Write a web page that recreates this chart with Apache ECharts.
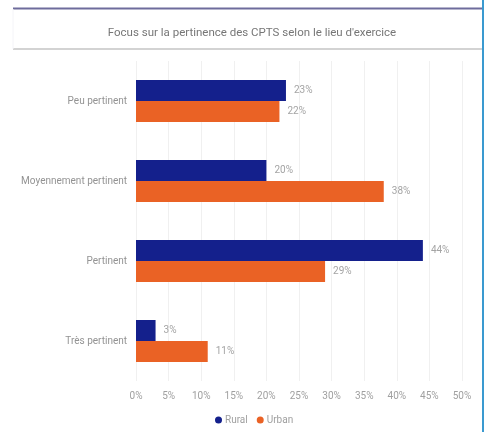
<!DOCTYPE html>
<html>
<head>
<meta charset="utf-8">
<script src="https://cdn.jsdelivr.net/npm/echarts@6/dist/echarts.min.js"></script>
<style>
  html, body { margin: 0; padding: 0; background: #ffffff; }
  #chart { width: 484px; height: 432px; }
</style>
</head>
<body>
<div id="chart"></div>
<script>
// Pertinence des CPTS selon le lieu d'exercice (en %)
const categories = ['Peu pertinent', 'Moyennement pertinent', 'Pertinent', 'Très pertinent'];
const rural = [23, 20, 44, 3];
const urban = [22, 38, 29, 11];
const xTicks = [0, 5, 10, 15, 20, 25, 30, 35, 40, 45, 50];

const FONT = 'Roboto, "Liberation Sans", sans-serif';
const chart = echarts.init(document.getElementById('chart'));

const labelStyle = {
  show: true,
  position: 'right',
  distance: 8,
  formatter: p => p.value + '%',
  color: '#a4a4a4',
  fontSize: 10,
  fontFamily: FONT
};

chart.setOption({
  animation: false,
  backgroundColor: '#ffffff',
  title: {
    text: "Focus sur la pertinence des CPTS selon le lieu d'exercice",
    left: 247,
    textAlign: 'center',
    top: 22,
    textStyle: { color: '#767676', fontSize: 11.5, fontWeight: 'normal', fontFamily: FONT }
  },
  graphic: [
    { type: 'line', shape: { x1: 13, y1: 8.5, x2: 484, y2: 8.5 }, style: { stroke: '#6e6c9c', lineWidth: 2 } },
    { type: 'line', shape: { x1: 13, y1: 49, x2: 484, y2: 49 }, style: { stroke: '#c4c4c4', lineWidth: 1.5 } },
    { type: 'line', shape: { x1: 13, y1: 9, x2: 13, y2: 49 }, style: { stroke: '#f4f4f8', lineWidth: 1 } },
    { type: 'line', shape: { x1: 483, y1: 0, x2: 483, y2: 432 }, style: { stroke: '#3a9ad0', lineWidth: 2 } }
  ],
  legend: {
    data: ['Rural', 'Urban'],
    bottom: 2,
    left: 210,
    icon: 'circle',
    itemWidth: 7,
    itemHeight: 7,
    itemGap: 9,
    textStyle: { color: '#a0a0a0', fontSize: 10, fontFamily: FONT, padding: [0, 0, 0, -2] }
  },
  grid: { left: 136, right: 22, top: 61, bottom: 51, containLabel: false },
  xAxis: {
    type: 'value',
    min: xTicks[0],
    max: xTicks[xTicks.length - 1],
    interval: 5,
    axisLine: { show: false },
    axisTick: { show: false },
    axisLabel: { formatter: v => v + '%', color: '#a0a0a0', fontSize: 10, fontFamily: FONT, margin: 10 },
    splitLine: { show: true, lineStyle: { color: '#f0f0f0', width: 1 } }
  },
  yAxis: {
    type: 'category',
    data: categories,
    inverse: true,
    axisLine: { show: false },
    axisTick: { show: false },
    axisLabel: { color: '#939393', fontSize: 10, fontFamily: FONT, margin: 9 },
    splitLine: { show: false }
  },
  series: [
    {
      name: 'Rural',
      type: 'bar',
      data: rural,
      barWidth: 21,
      barGap: '0%',
      itemStyle: { color: '#14208c' },
      label: labelStyle
    },
    {
      name: 'Urban',
      type: 'bar',
      data: urban,
      barWidth: 21,
      itemStyle: { color: '#ea6225' },
      label: labelStyle
    }
  ]
});
</script>
</body>
</html>
